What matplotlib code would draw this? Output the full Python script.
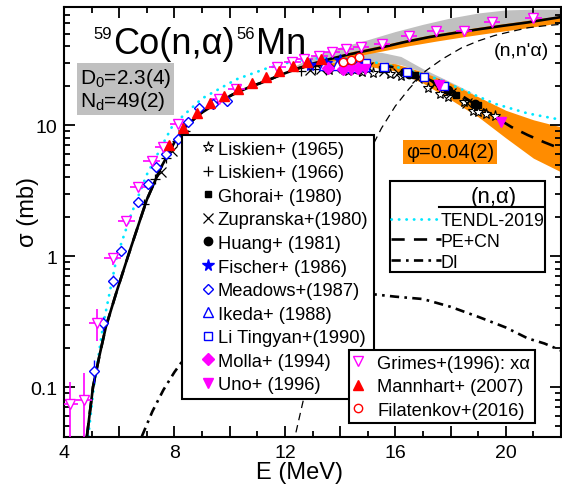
import numpy as np
import matplotlib
matplotlib.use("Agg")
import matplotlib.pyplot as plt
from matplotlib.ticker import MultipleLocator, FuncFormatter, LogLocator, NullFormatter
from matplotlib.lines import Line2D
from matplotlib.offsetbox import TextArea, HPacker, AnnotationBbox

plt.rcParams['font.family'] = ['Liberation Sans', 'DejaVu Sans']
plt.rcParams['mathtext.fontset'] = 'custom'
plt.rcParams['mathtext.rm'] = 'Liberation Sans'
plt.rcParams['mathtext.it'] = 'Liberation Sans:italic'

# ---- model curves ----
# (n,x alpha) total, solid
e_tot = [4.83, 5.05, 5.3, 5.52, 5.9, 6.32, 6.65, 7.0, 7.5, 8.0, 8.37, 8.92, 9.5, 10.12, 10.7,
         11.33, 11.9, 12.53, 13.0, 13.6, 14.2, 14.8, 15.4, 16.3, 17.2, 18.1, 19.0, 19.9, 20.8, 21.4, 22.0]
s_tot = [0.042, 0.1, 0.18, 0.29, 0.53, 1.0, 1.62, 2.7, 4.7, 7.4, 9.6, 12.2, 14.6, 17.2, 19.5,
         21.8, 24.5, 27.4, 29.5, 31.9, 34.3, 36.5, 38.8, 43.0, 47.0, 50.5, 54.0, 57.5, 61.0, 64.0, 67.0]
# (n,alpha) PE+CN, dashed
e_na = [4.83, 5.05, 5.3, 5.52, 5.9, 6.32, 6.65, 7.0, 7.5, 8.0, 8.37, 8.92, 9.5, 10.12, 10.7,
        11.33, 11.9, 12.53, 13.0, 13.6, 14.2, 14.8, 15.4, 16.0, 16.6, 17.2, 17.8, 18.4, 19.0,
        19.6, 20.2, 20.8, 21.4, 22.0]
s_na = [0.042, 0.1, 0.18, 0.29, 0.53, 1.0, 1.62, 2.7, 4.7, 7.4, 9.6, 12.2, 14.6, 17.2, 19.5,
        21.8, 24.5, 27.4, 28.4, 29.2, 29.6, 29.6, 29.0, 27.6, 25.2, 22.4, 19.6, 16.8, 14.0,
        11.6, 9.7, 8.4, 7.4, 6.6]
# (n,n'alpha), thin dashed
e_nna = [12.4, 12.7, 13.0, 13.5, 14.0, 14.5, 15.1, 15.5, 16.0, 16.5, 17.1, 17.7, 18.4, 19.0,
         19.6, 20.2, 20.8, 21.4, 22.0]
s_nna = [0.045, 0.085, 0.17, 0.5, 1.3, 2.9, 6.5, 9.5, 14.0, 19.0, 26.0, 32.0, 39.0, 44.0,
         48.5, 52.0, 55.5, 57.5, 59.0]
# direct interaction, dash-dot
e_di = [6.82, 7.2, 7.6, 8.0, 8.55, 9.5, 10.5, 11.5, 12.5, 13.5, 14.3, 15.13, 16.0, 17.0,
        18.0, 19.03, 20.0, 20.8, 21.4, 22.0]
s_di = [0.042, 0.065, 0.095, 0.13, 0.188, 0.28, 0.37, 0.44, 0.50, 0.53, 0.53, 0.513, 0.49,
        0.47, 0.41, 0.342, 0.285, 0.235, 0.215, 0.19]
# TENDL-2019 (n,alpha)
e_tendl = [4.88, 5.08, 5.42, 5.92, 6.4, 7.0, 7.94, 9.0, 10.24, 11.3, 12.3, 13.2, 14.0, 15.0,
           16.0, 17.0, 17.6, 18.4, 19.6, 20.8, 22.0]
s_tendl = [0.042, 0.1, 0.3, 1.0, 2.0, 4.2, 10.0, 16.0, 22.4, 27.0, 30.8, 32.5, 32.5, 31.0,
           28.0, 24.5, 22.3, 18.8, 14.6, 12.3, 11.0]

# uncertainty bands
e_ob = [13.0, 14.0, 15.0, 16.0, 17.0, 18.0, 19.0, 20.0, 21.0, 22.0]
ob_lo = [27.8, 28.5, 28.2, 26.0, 21.0, 15.7, 11.6, 8.0, 5.6, 4.4]
ob_hi = [29.0, 30.5, 31.0, 29.5, 25.5, 21.0, 16.5, 13.0, 11.0, 9.7]
e_gb = [12.8, 13.5, 14.2, 14.8, 15.5, 16.2, 17.0, 17.6, 18.2, 18.8]
gb_lo = [28.5, 29.8, 30.8, 31.0, 30.5, 29.0, 25.5, 22.5, 20.0, 17.5]
gb_hi = [29.0, 33.0, 35.5, 36.5, 36.0, 33.5, 27.0, 23.5, 20.4, 17.6]
e_ou = [12.5, 13.5, 14.5, 15.5, 16.5, 17.5, 18.5, 19.5, 20.5, 21.5, 22.0]
ou_lo = [26.8, 30.2, 33.5, 36.8, 40.5, 44.0, 47.5, 51.0, 54.5, 58.5, 61.0]
ou_hi = [27.8, 32.5, 36.8, 40.8, 45.5, 50.0, 54.0, 58.0, 62.0, 66.5, 69.0]
e_gu = [12.0, 13.0, 14.0, 15.0, 16.0, 17.0, 18.0, 19.0, 20.0, 21.0, 22.0]
gu_lo = [25.0, 29.5, 33.5, 37.3, 41.5, 46.0, 50.0, 54.0, 58.0, 62.0, 67.0]
gu_hi = [25.5, 34.0, 39.5, 45.0, 52.0, 59.0, 66.0, 72.0, 76.0, 77.0, 77.0]

# ---- experimental data ----
lis65_e = [13.6, 14.3, 14.8, 15.2, 15.8, 16.2, 17.2, 17.6, 17.9, 18.5, 18.8, 19.0, 19.3, 19.6]
lis65_s = [26.5, 25.8, 25.4, 24.9, 24.5, 23.7, 19.2, 17.3, 16.3, 15.0, 12.8, 12.6, 12.1, 11.7]
lis66_e = [6.9, 7.3, 7.7, 8.1, 8.4, 12.6, 13.1, 13.5, 14.1, 14.7]
lis66_s = [2.5, 3.9, 5.6, 7.6, 9.0, 26.0, 27.0, 26.5, 27.2, 26.0]
ghor_e = [14.7, 15.5, 16.3, 16.7, 17.6, 18.2, 19.0]
ghor_s = [27.2, 27.0, 25.5, 24.2, 20.0, 17.0, 14.2]
zupr_e = [7.5, 7.9, 8.3, 12.9, 13.3, 13.8, 14.2, 14.6, 15.0, 15.6, 16.1, 16.8, 17.4, 18.0, 18.6]
zupr_s = [4.4, 6.3, 8.4, 26.5, 27.0, 27.5, 27.0, 26.8, 27.6, 26.0, 25.2, 23.0, 20.5, 17.5, 14.8]
huang_e = [13.5, 14.1, 14.6, 14.9, 16.5, 17.9, 18.9]
huang_s = [27.8, 27.3, 26.8, 27.5, 24.8, 18.5, 14.6]
fisch_e = [12.9, 13.5, 14.0, 14.4, 14.8]
fisch_s = [29.0, 30.0, 31.5, 30.0, 30.5]
mead_e = [5.08, 5.40, 5.76, 6.06, 6.68, 7.05, 7.35, 7.71, 8.13, 8.49, 8.9, 9.4, 9.9]
mead_s = [0.133, 0.306, 0.65, 1.09, 2.57, 3.55, 4.76, 6.0, 7.82, 10.5, 13.5, 14.6, 15.3]
mead_rel = [0.2, 0.12, 0.1, 0.08, 0.06, 0.06, 0.05, 0.05, 0.05, 0.05, 0.05, 0.05, 0.05]
ikeda_e = [13.4, 13.9, 14.4, 14.9]
ikeda_s = [29.0, 28.6, 28.0, 28.3]
lity_e = [14.93, 15.6, 16.42, 17.04, 17.76]
lity_s = [30.1, 28.0, 25.5, 23.5, 19.8]
molla_e = [13.55, 14.1, 14.63]
molla_s = [27.5, 26.8, 27.5]
uno_e = [14.4, 14.9, 17.58, 19.81]
uno_s = [26.5, 27.0, 20.2, 10.5]
grim_e = [4.22, 4.72, 5.20, 5.76, 6.26, 6.68, 7.17, 7.59, 8.13, 9.63, 10.24, 11.73, 12.27,
          12.7, 13.25, 13.71, 14.22, 14.76, 15.52, 16.5, 17.46, 18.48, 19.5, 21.0]
grim_s = [0.0745, 0.080, 0.306, 0.96, 1.86, 3.4, 5.34, 6.76, 10.2, 15.8, 18.8, 27.7, 30.3,
          31.8, 33.6, 36.1, 38.0, 39.4, 41.5, 48.0, 52.6, 52.6, 61.6, 66.4]
grim_lo = [0.05, 0.06, 0.08, 0.1, 0.15, 0.2, 0.3, 0.4, 0.5, 0.6, 0.7, 0.9, 1.0, 1.0, 1.0,
           1.1, 1.1, 1.2, 1.2, 1.4, 1.5, 1.5, 1.8, 2.0]
grim_hi = [0.035, 0.048, 0.087, 0.1, 0.15, 0.2, 0.3, 0.4, 0.5, 0.6, 0.7, 0.9, 1.0, 1.0, 1.0,
           1.1, 1.1, 1.2, 1.2, 1.4, 1.5, 1.5, 1.8, 2.0]
mann_e = [7.8, 8.3, 8.8, 9.3, 9.8, 10.3, 10.8, 11.3, 11.8, 12.3, 12.8, 13.3]
mann_s = [7.0, 9.6, 12.3, 14.8, 16.8, 18.8, 20.9, 23.2, 25.8, 28.2, 30.5, 32.0]
fila_e = [14.1, 14.4, 14.7]
fila_s = [30.5, 31.5, 33.0]

W, H = 562, 485


def fpx(x, y):
    return (x / W, 1 - y / H)


fig = plt.figure(figsize=(W / 100, H / 100), dpi=100)
ax = fig.add_axes([64 / W, 1 - 438 / H, 497 / W, 430 / H])
ax.set_yscale('log')
ax.set_xlim(4, 22)
ax.set_ylim(0.0415, 80)

orange = '#ff8c00'
gray = '#c0c0c0'
ax.fill_between(e_gu, gu_lo, gu_hi, color=gray, lw=0, zorder=1)
ax.fill_between(e_gb, gb_lo, gb_hi, color=gray, lw=0, zorder=1)
ax.fill_between(e_ou, ou_lo, ou_hi, color=orange, lw=0, zorder=1.5)
ax.fill_between(e_ob, ob_lo, ob_hi, color=orange, lw=0, zorder=1.5)

ax.plot(e_tendl, s_tendl, color='#00e8ff', lw=2, ls=(0, (0.1, 2.6)), dash_capstyle='round', zorder=2)
ax.plot(e_nna, s_nna, color='black', lw=0.9, ls=(0, (6, 4)), zorder=2)
ax.plot(e_di, s_di, color='black', lw=1.9, ls=(0, (3.5, 2, 1, 2)), zorder=2)
ax.plot(e_na, s_na, color='black', lw=1.9, ls=(0, (5, 3.5)), zorder=2)
ax.plot(e_tot, s_tot, color='black', lw=1.9, zorder=2.5)

# error bars (no legend)
ax.errorbar(grim_e, grim_s, yerr=[grim_lo, grim_hi], xerr=0.3, fmt='none',
            ecolor='#ff00ff', elinewidth=1.2, zorder=2.8)
mead_err = [s * r for s, r in zip(mead_s, mead_rel)]
ax.errorbar(mead_e, mead_s, yerr=mead_err, xerr=0.12, fmt='none',
            ecolor='#0000ff', elinewidth=1.0, zorder=2.8)

blue = '#0000ff'
mag = '#ff00ff'
red = '#ff0000'
kw = dict(ls='none', zorder=3)
h1 = [
    ax.plot(lis65_e, lis65_s, marker='*', ms=8, mfc='white', mec='black', mew=0.8, label='Liskien+ (1965)', **kw)[0],
    ax.plot(lis66_e, lis66_s, marker='+', ms=7, mec='black', mew=0.9, label='Liskien+ (1966)', **kw)[0],
    ax.plot(ghor_e, ghor_s, marker='s', ms=5, mfc='black', mec='black', label='Ghorai+ (1980)', **kw)[0],
    ax.plot(zupr_e, zupr_s, marker='x', ms=6.5, mec='black', mew=0.9, label='Zupranska+(1980)', **kw)[0],
    ax.plot(huang_e, huang_s, marker='o', ms=6, mfc='black', mec='black', label='Huang+ (1981)', **kw)[0],
    ax.plot(fisch_e, fisch_s, marker='*', ms=8.5, mfc=blue, mec=blue, label='Fischer+ (1986)', **kw)[0],
    ax.plot(mead_e, mead_s, marker='D', ms=5, mfc='white', mec=blue, mew=1, label='Meadows+(1987)', **kw)[0],
    ax.plot(ikeda_e, ikeda_s, marker='^', ms=6.5, mfc='white', mec=blue, mew=1, label='Ikeda+ (1988)', **kw)[0],
    ax.plot(lity_e, lity_s, marker='s', ms=6, mfc='white', mec=blue, mew=1, label='Li Tingyan+(1990)', **kw)[0],
    ax.plot(molla_e, molla_s, marker='D', ms=6, mfc=mag, mec=mag, label='Molla+ (1994)', **kw)[0],
    ax.plot(uno_e, uno_s, marker='v', ms=7.5, mfc=mag, mec=mag, label='Uno+ (1996)', **kw)[0],
]
h2 = [
    ax.plot(grim_e, grim_s, marker='v', ms=7, mfc='white', mec=mag, mew=1, label='Grimes+(1996): x\u03b1', **kw)[0],
    ax.plot(mann_e, mann_s, marker='^', ms=6.5, mfc=red, mec=red, label='Mannhart+ (2007)', **kw)[0],
    ax.plot(fila_e, fila_s, marker='o', ms=6, mfc='white', mec=red, mew=1, label='Filatenkov+(2016)', **kw)[0],
]

# axes styling
for sp in ax.spines.values():
    sp.set_linewidth(1.5)
ax.xaxis.set_major_locator(MultipleLocator(2))
ax.xaxis.set_minor_locator(MultipleLocator(1))
ax.xaxis.set_major_formatter(FuncFormatter(lambda v, p: '%d' % v if int(round(v)) % 4 == 0 else ''))
ax.yaxis.set_major_locator(LogLocator(base=10))
ax.yaxis.set_minor_locator(LogLocator(base=10, subs=np.arange(2, 10)))
ax.yaxis.set_major_formatter(FuncFormatter(lambda v, p: '%g' % v))
ax.yaxis.set_minor_formatter(NullFormatter())
ax.tick_params(which='both', direction='in', top=True, right=True, width=1.3, labelsize=14)
ax.tick_params(which='major', length=8, pad=5)
ax.tick_params(which='minor', length=4)

fig.text(*fpx(300, 473), 'E (MeV)', ha='center', va='center', fontsize=17)
fig.text(*fpx(28, 212), '\u03c3 (mb)', ha='center', va='center', rotation=90, fontsize=17)

# legends
leg_kw = dict(frameon=True, fancybox=False, framealpha=1, edgecolor='black',
              bbox_transform=fig.transFigure, loc='upper left', borderaxespad=0, numpoints=1)
leg1 = ax.legend(handles=h1, bbox_to_anchor=fpx(182, 136), fontsize=13.2,
                 borderpad=0.3, handlelength=2.2, handletextpad=-0.55, labelspacing=0.36, **leg_kw)
leg1.get_frame().set_linewidth(1.5)
leg1.set_zorder(10)
ax.add_artist(leg1)

leg2 = ax.legend(handles=h2, bbox_to_anchor=fpx(349, 351), fontsize=13.2,
                 borderpad=0.25, handlelength=0.5, handletextpad=0.8, labelspacing=0.36, **leg_kw)
leg2.get_frame().set_linewidth(1.5)
leg2.set_zorder(10)
ax.add_artist(leg2)

h3 = [Line2D([], [], color='#00e8ff', lw=2, ls=(0, (0.1, 2.6)), dash_capstyle='round'),
      Line2D([], [], color='black', lw=1.9, ls=(0, (5, 3.5))),
      Line2D([], [], color='black', lw=1.9, ls=(0, (3.5, 2, 1, 2)))]
leg3 = ax.legend(handles=h3, labels=['TENDL-2019', 'PE+CN', 'DI'], bbox_to_anchor=fpx(390, 182),
                 fontsize=12.8, title=' ', title_fontsize=20, borderpad=0.05, handlelength=2.8,
                 handletextpad=0.0, labelspacing=0.22, **leg_kw)
leg3.get_frame().set_linewidth(1.5)
leg3.set_zorder(10)
fig.text(*fpx(494, 198), '(n,\u03b1)', ha='center', va='center', fontsize=16, zorder=11)
fig.add_artist(Line2D([439 / W, 543 / W], [1 - 208 / H, 1 - 208 / H], color='black', lw=1.5,
                      transform=fig.transFigure, zorder=11))

# text boxes
ax.text(*fpx(80, 90), 'D$_0$=2.3(4)\nN$_\\mathrm{d}$=49(2)', transform=fig.transFigure,
        fontsize=15, ha='left', va='center', linespacing=1.0, zorder=6,
        bbox=dict(facecolor=gray, edgecolor='none', pad=2))
ax.text(*fpx(450, 153), '\u03c6=0.04(2)', transform=fig.transFigure, fontsize=14.4,
        ha='center', va='center', zorder=6, bbox=dict(facecolor=orange, edgecolor='none', pad=2))
ax.text(*fpx(521, 51), "(n,n'\u03b1)", transform=fig.transFigure, fontsize=14,
        ha='center', va='center', zorder=6)

parts = [TextArea('59', textprops=dict(fontsize=12)),
         TextArea('Co(n,\u03b1)', textprops=dict(fontsize=26)),
         TextArea('56', textprops=dict(fontsize=12)),
         TextArea('Mn', textprops=dict(fontsize=26))]
pack = HPacker(children=parts, align='top', pad=0, sep=1)
ab = AnnotationBbox(pack, fpx(93, 27), xycoords='figure fraction', box_alignment=(0, 1),
                    frameon=False, pad=0, zorder=6)
fig.add_artist(ab)

fig.savefig('out.png', dpi=100)
